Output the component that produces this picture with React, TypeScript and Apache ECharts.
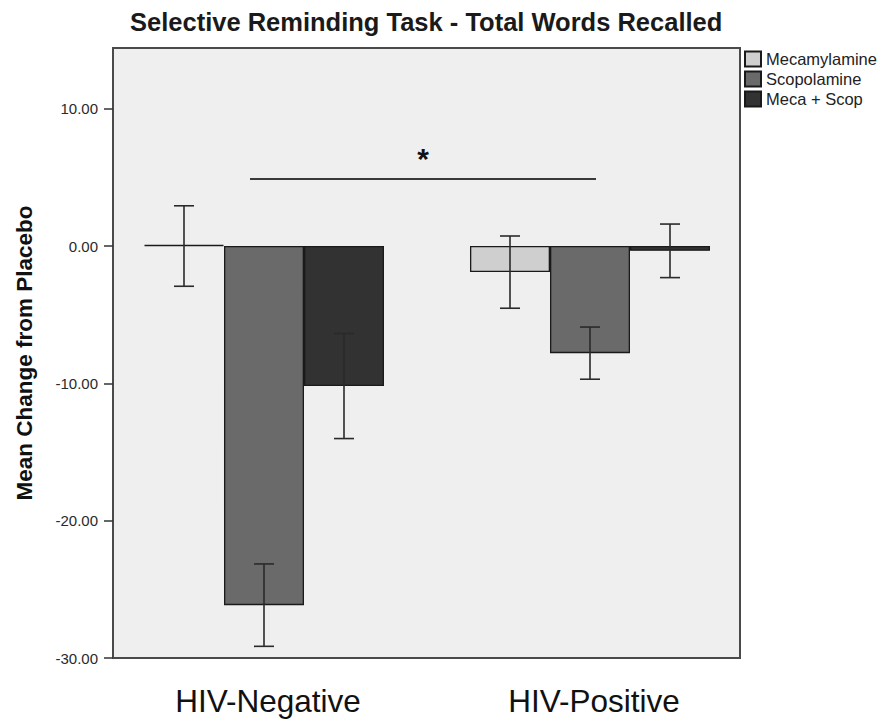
import React, { useEffect, useRef } from "react";
import * as echarts from "echarts";

// ---- data ----
const categories = ["HIV-Negative", "HIV-Positive"];
const seriesNames = ["Mecamylamine", "Scopolamine", "Meca + Scop"];
const mecaMeans = [0, -1.9];
const scopMeans = [-26.15, -7.8];
const bothMeans = [-10.2, -0.35];
const mecaErr = [2.93, 2.63];
const scopErr = [3.0, 1.9];
const bothErr = [3.82, 1.95];
const yTickValues = [-30, -20, -10, 0, 10];
const sigLineValue = 4.88;
const sigStarValue = 6.4;

// ---- styles / layout ----
const FONT = "'Liberation Sans', Arial, sans-serif";
const colors = ["#cfcfcf", "#6a6a6a", "#323232"];
const BAR_W = 80;
const PLOT = { left: 113, top: 48, right: 740, bottom: 658 };
const GRID = { left: 101, right: 753 };

export default function App() {
  const ref = useRef<HTMLDivElement>(null);
  useEffect(() => {
    if (!ref.current) return;
    const chart = echarts.init(ref.current, undefined, { renderer: "svg" });
    const means = [mecaMeans, scopMeans, bothMeans];
    const errs = [mecaErr, scopErr, bothErr];
    const errData: number[][] = [];
    means.forEach((m, k) => {
      m.forEach((v, ci) => {
        errData.push([ci, v - errs[k][ci], v + errs[k][ci], k]);
      });
    });

    chart.setOption({
      animation: false,
      backgroundColor: "#ffffff",
      title: {
        text: "Selective Reminding Task - Total Words Recalled",
        left: 125,
        top: 4,
        textStyle: { fontFamily: FONT, fontSize: 25.5, fontWeight: "bold", color: "#1a1a1a" },
      },
      legend: {
        data: seriesNames,
        orient: "vertical",
        left: 744,
        top: 49,
        padding: 0,
        itemWidth: 16,
        itemHeight: 15,
        itemGap: 0,
        icon: "rect",
        textStyle: { fontFamily: FONT, fontSize: 16.5, color: "#222", lineHeight: 20 },
      },
      graphic: [
        {
          type: "rect",
          z: -10,
          shape: {
            x: PLOT.left,
            y: PLOT.top,
            width: PLOT.right - PLOT.left,
            height: PLOT.bottom - PLOT.top,
          },
          style: { fill: "#efefef", stroke: "#4a4a4a", lineWidth: 2 },
          silent: true,
        },
      ],
      grid: {
        left: GRID.left,
        right: 881 - GRID.right,
        top: PLOT.top,
        bottom: 724 - PLOT.bottom,
        containLabel: false,
        outerBoundsMode: "none",
      },
      xAxis: {
        type: "category",
        data: categories,
        axisLine: { show: false },
        axisTick: { show: true, alignWithLabel: true, length: 11, lineStyle: { color: "#444", width: 1.5 } },
        axisLabel: {
          fontFamily: FONT,
          fontSize: 31.5,
          color: "#111",
          margin: 27,
          padding: [0, 0, 0, 8],
        },
      },
      yAxis: {
        type: "value",
        min: -30,
        max: 14.42,
        interval: 10,
        offset: -(PLOT.left - GRID.left),
        splitLine: { show: false },
        axisLine: { show: false },
        axisTick: { show: true, length: 9, customValues: yTickValues, lineStyle: { color: "#333", width: 1.5 } },
        axisLabel: {
          customValues: yTickValues,
          fontFamily: FONT,
          fontSize: 15,
          color: "#2a2a2a",
          margin: 15,
          formatter: (v: number) => v.toFixed(2),
        },
        name: "Mean Change from Placebo",
        nameLocation: "middle",
        nameGap: 77,
        nameTextStyle: { fontFamily: FONT, fontSize: 22.5, fontWeight: "bold", color: "#111" },
      },
      series: [
        ...seriesNames.map((name, k) => ({
          name,
          type: "bar",
          data: means[k],
          barWidth: BAR_W,
          barGap: "0%",
          barMinHeight: k === 0 ? 1 : 0,
          itemStyle: { color: colors[k], borderColor: "#1a1a1a", borderWidth: 1.3 },
          z: 2,
        })),
        {
          type: "custom",
          name: "errors",
          data: errData,
          z: 5,
          renderItem: (params: any, api: any) => {
            const ci = api.value(0);
            const lo = api.value(1);
            const hi = api.value(2);
            const k = api.value(3);
            const base = api.coord([ci, 0]);
            const x = base[0] + (k - 1) * BAR_W;
            const yHi = api.coord([ci, hi])[1];
            const yLo = api.coord([ci, lo])[1];
            const cap = 10;
            const st = { stroke: "#2a2a2a", lineWidth: 1.6 };
            return {
              type: "group",
              children: [
                { type: "line", shape: { x1: x, y1: yHi, x2: x, y2: yLo }, style: st },
                { type: "line", shape: { x1: x - cap, y1: yHi, x2: x + cap, y2: yHi }, style: st },
                { type: "line", shape: { x1: x - cap, y1: yLo, x2: x + cap, y2: yLo }, style: st },
              ],
            };
          },
        },
        {
          type: "custom",
          name: "significance",
          data: [[0, 1, sigLineValue, sigStarValue]],
          z: 5,
          renderItem: (params: any, api: any) => {
            const y = api.coord([0, api.value(2)])[1];
            const x1 = api.coord([api.value(0), 0])[0] - 14;
            const x2 = api.coord([api.value(1), 0])[0] + 6;
            const ys = api.coord([0, api.value(3)])[1];
            return {
              type: "group",
              children: [
                { type: "line", shape: { x1, y1: y, x2, y2: y }, style: { stroke: "#3a3a3a", lineWidth: 2 } },
                {
                  type: "text",
                  x: (x1 + x2) / 2,
                  y: ys,
                  style: {
                    text: "*",
                    fontFamily: FONT,
                    fontSize: 30,
                    fontWeight: "bold",
                    fill: "#111",
                    align: "center",
                    verticalAlign: "middle",
                  },
                },
              ],
            };
          },
        },
      ],
    });
    return () => chart.dispose();
  }, []);

  return (
    <div
      ref={ref}
      style={{ position: "fixed", left: 0, top: 0, width: 881, height: 724 }}
    />
  );
}
